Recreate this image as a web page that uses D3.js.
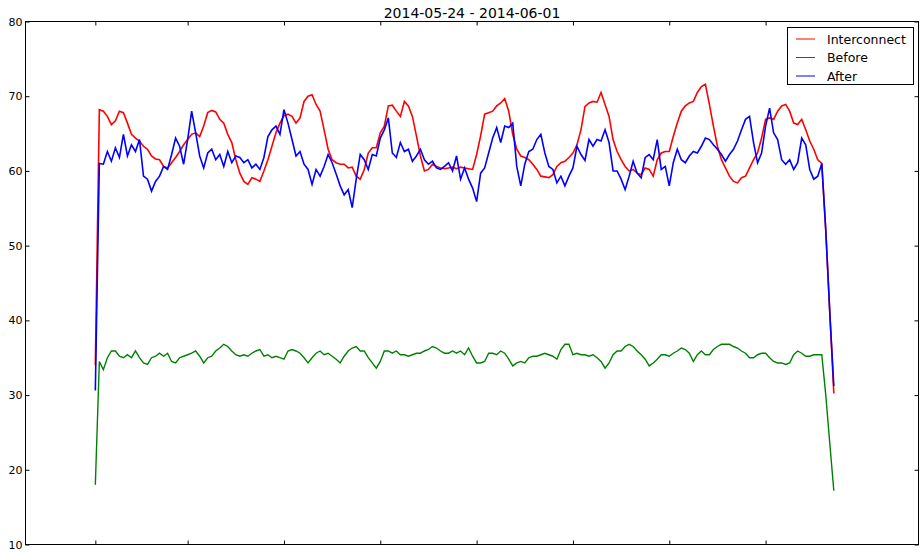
<!DOCTYPE html>
<html>
<head>
<meta charset="utf-8">
<script src="https://cdn.jsdelivr.net/npm/d3@7"></script>
<style>
  html, body { margin: 0; padding: 0; background: #fff; }
  svg { display: block; font-family: "DejaVu Sans", sans-serif; }
</style>
</head>
<body>
<svg id="chart" width="923" height="552"></svg>
<script>
// Hourly samples starting at the first tick; hour 0 is the start of the series.
const title = "2014-05-24 - 2014-06-01";
const seriesNames = ["Interconnect", "Before", "After"];
const seriesColors = ["#ff0000", "#008000", "#0000ff"];

const interconnect = [
  34.0, 68.2, 68.0, 67.3, 66.2, 66.7, 68.0, 67.8, 66.4, 64.9, 64.4, 64.0, 63.3, 62.9, 62.0, 61.6,
  61.5, 60.6, 60.4, 61.1, 61.8, 62.6, 63.5, 64.2, 64.9, 65.1, 64.6, 66.0, 67.8, 68.1, 67.9, 66.9,
  66.4, 64.9, 63.8, 61.5, 59.7, 58.6, 58.2, 59.1, 58.9, 58.6, 60.0, 61.5, 63.3, 65.1, 66.4, 67.4,
  67.6, 67.3, 66.4, 67.1, 69.3, 70.0, 70.2, 68.9, 68.0, 65.5, 62.9, 61.5, 61.1, 60.9, 60.9, 60.4,
  60.5, 59.3, 58.9, 60.2, 62.4, 63.1, 63.1, 65.1, 66.0, 68.7, 68.8, 68.0, 67.3, 69.3, 68.7, 67.3,
  64.7, 62.0, 60.0, 60.2, 60.9, 60.6, 60.4, 60.3, 60.4, 60.5, 60.3, 60.5, 60.4, 60.3, 60.2, 62.2,
  64.7, 67.6, 67.8, 68.0, 68.7, 69.1, 69.7, 68.0, 64.9, 62.9, 62.0, 61.8, 61.5, 60.9, 60.2, 59.3,
  59.2, 59.1, 59.5, 60.6, 61.1, 61.3, 61.8, 62.4, 63.5, 65.5, 68.6, 69.1, 69.3, 69.2, 70.5, 68.9,
  67.3, 64.2, 62.6, 61.5, 60.6, 60.0, 60.2, 59.7, 59.5, 60.4, 60.2, 59.3, 61.5, 62.4, 62.6, 62.6,
  64.6, 66.4, 68.0, 68.7, 69.1, 69.3, 70.5, 71.3, 71.6, 68.9, 66.0, 63.3, 61.5, 60.4, 59.3, 58.6,
  58.4, 59.1, 59.3, 60.4, 61.5, 62.4, 64.4, 66.9, 67.1, 66.9, 68.0, 68.7, 68.9, 68.0, 66.4, 66.2,
  66.9, 65.5, 64.0, 62.9, 61.5, 61.0, 52.0, 41.0, 30.2
];

const before = [
  18.0, 34.5, 33.4, 35.0, 35.9, 35.9, 35.2, 35.0, 35.4, 35.0, 35.9, 35.0, 34.3, 34.1, 35.0, 35.2,
  35.6, 35.2, 35.6, 34.5, 34.3, 35.0, 35.2, 35.4, 35.6, 35.9, 35.2, 34.3, 35.0, 35.2, 35.9, 36.3,
  36.8, 36.5, 35.9, 35.4, 35.2, 35.4, 35.2, 35.6, 35.9, 36.1, 35.2, 35.4, 35.0, 35.2, 35.0, 34.8,
  35.9, 36.1, 35.9, 35.6, 35.0, 34.3, 35.0, 35.6, 35.9, 35.4, 35.6, 35.2, 34.8, 34.3, 35.2, 35.9,
  36.3, 36.5, 35.9, 35.9, 35.0, 34.3, 33.6, 34.5, 35.9, 35.9, 35.6, 35.9, 35.4, 35.4, 35.2, 35.4,
  35.6, 35.6, 35.9, 36.1, 36.5, 36.3, 35.9, 35.6, 35.6, 35.9, 35.6, 35.9, 35.4, 36.3, 35.2, 34.3,
  34.3, 34.5, 35.6, 35.6, 35.4, 35.9, 35.6, 34.8, 33.9, 34.3, 34.5, 34.3, 35.0, 35.2, 35.2, 35.4,
  35.6, 35.4, 35.2, 34.8, 36.1, 36.8, 36.8, 35.4, 35.6, 35.4, 35.4, 35.2, 35.4, 35.0, 34.5, 33.6,
  34.3, 35.4, 35.9, 35.9, 36.5, 36.8, 36.5, 35.9, 35.4, 34.8, 33.9, 34.3, 34.8, 35.4, 35.4, 35.2,
  35.6, 35.9, 36.3, 36.1, 35.6, 34.5, 35.4, 35.9, 35.4, 35.4, 36.1, 36.5, 36.8, 36.8, 36.8, 36.5,
  36.3, 35.9, 35.6, 35.0, 35.0, 35.4, 35.6, 35.6, 35.0, 34.5, 34.3, 34.3, 34.1, 34.3, 35.4, 35.9,
  35.6, 35.2, 35.2, 35.4, 35.4, 35.4, 30.0, 23.5, 17.2
];

const after = [
  30.6, 61.0, 60.9, 62.6, 61.3, 63.1, 61.8, 64.9, 62.0, 63.5, 62.6, 64.2, 59.3, 58.9, 57.3, 58.6,
  59.3, 60.6, 60.2, 62.2, 64.4, 63.3, 60.9, 64.2, 68.0, 65.1, 62.0, 60.4, 62.4, 62.9, 61.5, 62.2,
  60.6, 62.6, 61.1, 62.0, 61.8, 61.1, 61.5, 60.4, 60.9, 60.2, 61.8, 64.6, 65.5, 66.0, 64.9, 68.2,
  66.4, 64.2, 62.0, 62.6, 60.9, 60.2, 58.2, 60.2, 59.3, 60.6, 62.2, 61.1, 59.6, 58.0, 56.8, 57.5,
  55.1, 58.9, 62.2, 61.5, 60.2, 62.2, 62.0, 64.4, 65.5, 67.1, 62.4, 61.8, 63.8, 62.6, 62.9, 61.3,
  62.0, 62.9, 61.5, 60.9, 61.3, 60.4, 60.2, 60.6, 61.1, 60.0, 62.0, 58.9, 60.4, 58.9, 57.7, 55.9,
  59.7, 60.4, 62.4, 64.4, 65.8, 63.8, 66.0, 65.8, 66.4, 60.6, 58.0, 60.9, 62.6, 62.9, 64.2, 64.9,
  62.4, 60.6, 60.2, 58.4, 59.3, 58.0, 59.3, 60.4, 63.3, 62.2, 61.4, 64.2, 63.3, 64.2, 64.0, 65.5,
  63.8, 60.0, 60.0, 58.9, 57.5, 59.3, 61.3, 59.7, 59.1, 61.8, 62.2, 61.5, 64.2, 60.2, 60.6, 58.0,
  61.1, 62.9, 61.5, 61.1, 62.0, 62.6, 62.4, 63.3, 64.4, 64.2, 63.5, 62.9, 62.2, 61.3, 62.2, 62.9,
  64.0, 65.5, 66.9, 67.3, 63.8, 61.1, 62.4, 66.0, 68.4, 65.1, 64.2, 61.5, 60.9, 61.5, 60.2, 61.1,
  64.4, 63.5, 60.2, 58.9, 59.3, 61.0, 52.0, 41.0, 31.2
];

const yTicks = [10, 20, 30, 40, 50, 60, 70, 80];
const xTickHours = [0, 23, 47, 71, 95, 119, 143, 167];

const W = 923, H = 552;
const plot = { left: 25.5, right: 918.5, top: 21.5, bottom: 544.5 };

const svg = d3.select("#chart");
svg.append("rect").attr("width", W).attr("height", H).attr("fill", "#fff");

const x = d3.scaleLinear().domain([-17.4, 205.1]).range([plot.left, plot.right]);
const y = d3.scaleLinear().domain([10, 80]).range([plot.bottom, plot.top]);

svg.append("clipPath").attr("id", "plotClip")
  .append("rect")
  .attr("x", plot.left).attr("y", plot.top)
  .attr("width", plot.right - plot.left).attr("height", plot.bottom - plot.top);

// Series lines: Interconnect first, then Before, then After on top
const allSeries = [interconnect, before, after];
const strokeWidths = [1.6, 1.4, 1.6];
const line = d3.line().x((d, i) => x(i)).y(d => y(d));
const lines = svg.append("g").attr("clip-path", "url(#plotClip)");

allSeries.forEach((vals, k) => {
  lines.append("path")
    .datum(vals)
    .attr("d", line)
    .attr("fill", "none")
    .attr("stroke", seriesColors[k])
    .attr("stroke-width", strokeWidths[k])
    .attr("stroke-linejoin", "miter");
});

// Axes with inward ticks on all four sides
const tickLen = 4;
function styleAxis(g) {
  g.select(".domain").remove();
  g.selectAll(".tick line").attr("stroke", "#000").attr("stroke-width", 1);
  g.selectAll(".tick text").attr("fill", "#000");
}
svg.append("g")
  .attr("transform", `translate(0,${plot.bottom})`)
  .call(d3.axisBottom(x).tickValues(xTickHours).tickSize(-tickLen).tickFormat(""))
  .call(styleAxis);
svg.append("g")
  .attr("transform", `translate(0,${plot.top})`)
  .call(d3.axisTop(x).tickValues(xTickHours).tickSize(-tickLen).tickFormat(""))
  .call(styleAxis);
svg.append("g")
  .attr("transform", `translate(${plot.left},0)`)
  .call(d3.axisLeft(y).tickValues(yTicks).tickSize(-tickLen).tickPadding(3).tickFormat(d3.format("d")))
  .call(styleAxis)
  .selectAll(".tick text").attr("font-size", 11).attr("font-family", "DejaVu Sans");
svg.append("g")
  .attr("transform", `translate(${plot.right},0)`)
  .call(d3.axisRight(y).tickValues(yTicks).tickSize(-tickLen).tickFormat(""))
  .call(styleAxis);

// Frame
svg.append("rect")
  .attr("x", plot.left).attr("y", plot.top)
  .attr("width", plot.right - plot.left).attr("height", plot.bottom - plot.top)
  .attr("fill", "none").attr("stroke", "#000").attr("stroke-width", 1);

// Title
svg.append("text")
  .attr("x", (plot.left + plot.right) / 2).attr("y", 18)
  .attr("text-anchor", "middle")
  .attr("font-size", 14)
  .text(title);

// Legend
const legend = svg.append("g").attr("transform", "translate(787.5,27.5)");
legend.append("rect")
  .attr("width", 126).attr("height", 57)
  .attr("fill", "#fff").attr("stroke", "#000").attr("stroke-width", 1);
seriesNames.forEach((name, k) => {
  const cy = 11.5 + k * 18.5;
  legend.append("line")
    .attr("x1", 8.5).attr("x2", 27.5).attr("y1", cy).attr("y2", cy)
    .attr("stroke", seriesColors[k]).attr("stroke-width", 1);
  legend.append("text")
    .attr("x", 39.5).attr("y", cy + 4.5)
    .attr("font-size", 12.5)
    .text(name);
});
</script>
</body>
</html>
